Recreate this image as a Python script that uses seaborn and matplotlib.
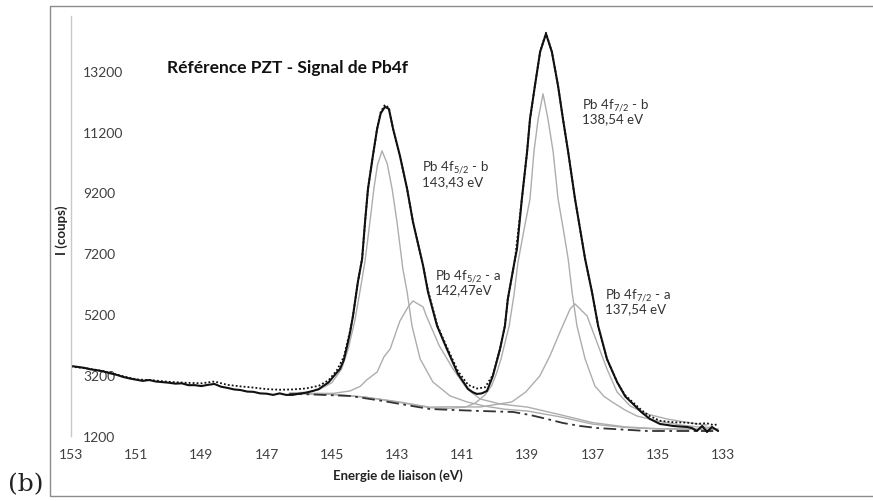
import matplotlib
matplotlib.use('Agg')
import matplotlib.pyplot as plt
import matplotlib.patches as patches
import seaborn as sns

# Spectre XPS Pb4f
exp_energy = [153.0, 152.8, 152.6, 152.4, 152.2, 152.0, 151.8, 151.6, 151.4, 151.2,
              151.0, 150.8, 150.6, 150.4, 150.2, 150.0, 149.8, 149.6, 149.4, 149.2,
              149.0, 148.8, 148.6, 148.4, 148.2, 148.0, 147.8, 147.6, 147.4, 147.2,
              147.0, 146.8, 146.6, 146.4, 146.2, 146.0, 145.8, 145.58, 145.4, 145.27,
              145.1, 144.96, 144.85, 144.75, 144.63, 144.53, 144.44, 144.35, 144.2, 144.07,
              143.98, 143.89, 143.74, 143.61, 143.5, 143.37, 143.25, 143.12, 142.91, 142.69,
              142.51, 142.2, 142.05, 141.77, 141.47, 141.13, 140.82, 140.68, 140.55, 140.4,
              140.24, 140.06, 139.84, 139.69, 139.6, 139.38, 139.32, 139.17, 139.01, 138.92,
              138.77, 138.61, 138.43, 138.25, 138.06, 137.91, 137.75, 137.54, 137.23, 137.02,
              136.83, 136.56, 136.25, 136.0, 135.76, 135.5, 135.24, 134.93, 134.7, 134.53,
              134.3, 134.1, 133.95, 133.8, 133.64, 133.49, 133.34, 133.15]
exp_counts = [3500, 3470, 3440, 3390, 3360, 3320, 3260, 3210, 3140, 3090,
              3050, 3010, 3040, 2990, 2970, 2950, 2920, 2930, 2870, 2870,
              2840, 2880, 2910, 2820, 2780, 2730, 2710, 2660, 2650, 2600,
              2590, 2550, 2600, 2550, 2550, 2590, 2620, 2680, 2740, 2840,
              2960, 3140, 3280, 3400, 3700, 4160, 4600, 5144, 6262, 7018,
              8234, 9319, 10404, 11291, 11800, 12014, 11950, 11291, 10404, 9319,
              8234, 6800, 5933, 4816, 4060, 3238, 2745, 2640, 2581, 2600,
              2679, 3172, 4060, 4816, 5703, 7018, 7347, 8990, 10535, 11620,
              12705, 13822, 14414, 13822, 12705, 11620, 10535, 8990, 7018, 5933,
              4816, 3731, 2975, 2500, 2252, 1980, 1759, 1594, 1560, 1529,
              1510, 1496, 1460, 1364, 1529, 1331, 1496, 1364]

fit_energy = [153.0, 152.5, 152.0, 151.5, 151.0, 150.5, 150.0, 149.5, 149.0, 148.6,
              148.2, 147.8, 147.4, 147.0, 146.6, 146.2, 145.8, 145.4, 145.1, 144.85,
              144.63, 144.44, 144.35, 144.2, 144.07, 143.98, 143.89, 143.74, 143.61, 143.5,
              143.37, 143.25, 143.12, 142.91, 142.69, 142.51, 142.2, 142.05, 141.77, 141.47,
              141.13, 140.82, 140.55, 140.3, 140.06, 139.84, 139.69, 139.6, 139.38, 139.17,
              139.01, 138.92, 138.77, 138.61, 138.43, 138.25, 138.06, 137.91, 137.75, 137.54,
              137.23, 137.02, 136.83, 136.56, 136.25, 136.0, 135.76, 135.5, 135.24, 134.93,
              134.5, 134.1, 133.8, 133.5, 133.3, 133.15]
fit_counts = [3480, 3420, 3330, 3190, 3060, 3030, 2980, 2950, 2930, 2990,
              2880, 2830, 2790, 2740, 2720, 2730, 2760, 2850, 3030, 3350,
              3800, 4650, 5150, 6262, 7018, 8234, 9319, 10404, 11291, 11850,
              12080, 11980, 11291, 10404, 9319, 8234, 6800, 5990, 4850, 4120,
              3330, 2880, 2760, 2800, 3200, 4060, 4816, 5703, 7018, 8990,
              10535, 11620, 12705, 13822, 14450, 13822, 12705, 11620, 10535, 8990,
              7018, 5933, 4816, 3731, 2975, 2540, 2300, 2050, 1850, 1700,
              1650, 1640, 1600, 1620, 1560, 1580]

bg_energy = [146.3, 146.0, 144.44, 143.43, 142.0, 141.28, 140.45, 139.44, 138.92, 138.4,
             137.91, 137.39, 136.87, 136.37, 135.33, 134.32, 133.3]
bg_counts = [2581, 2581, 2515, 2350, 2087, 2055, 2022, 1989, 1890, 1759,
             1627, 1529, 1463, 1430, 1364, 1364, 1364]

p52b_energy = [146.3, 145.8, 145.4, 145.0, 144.7, 144.5, 144.3, 144.12, 143.98, 143.83,
               143.71, 143.6, 143.46, 143.3, 143.15, 143.0, 142.82, 142.69, 142.54, 142.29,
               141.9, 141.37, 140.85, 140.3, 139.7, 139.0, 138.0, 137.0, 136.0, 135.0,
               134.0, 133.15]
p52b_counts = [2600, 2640, 2720, 2950, 3400, 4050, 4950, 6050, 6950, 8234,
               9319, 10100, 10568, 10150, 9319, 8234, 6689, 5933, 4816, 3731,
               2975, 2515, 2318, 2180, 2080, 2020, 1830, 1590, 1480, 1430,
               1420, 1420]

p52a_energy = [146.3, 145.5, 144.96, 144.44, 144.13, 143.92, 143.61, 143.4, 143.21, 142.91,
               142.66, 142.51, 142.2, 142.1, 141.7, 141.28, 140.85, 140.45, 139.84, 139.3,
               139.0, 138.0, 137.0, 136.0, 135.0, 134.0, 133.15]
p52a_counts = [2600, 2600, 2600, 2680, 2830, 3050, 3300, 3800, 4060, 4980,
               5440, 5637, 5440, 5144, 4158, 3402, 2745, 2416, 2252, 2186,
               2150, 1900, 1640, 1500, 1440, 1430, 1430]

p72b_energy = [146.3, 145.0, 144.0, 143.0, 142.0, 141.4, 140.9, 140.6, 140.3, 140.1,
               139.95, 139.81, 139.56, 139.41, 139.29, 139.1, 138.92, 138.8, 138.67, 138.52,
               138.37, 138.21, 138.06, 137.9, 137.75, 137.63, 137.48, 137.23, 136.93, 136.65,
               136.4, 136.0, 135.64, 135.2, 134.84, 134.3, 133.8, 133.3]
p72b_counts = [2600, 2570, 2480, 2320, 2130, 2110, 2150, 2280, 2550, 2850,
               3250, 3731, 4816, 5850, 6900, 8000, 8990, 10535, 11620, 12442,
               11620, 10535, 8990, 8000, 7018, 5933, 4816, 3731, 2844, 2500,
               2318, 2050, 1857, 1740, 1660, 1560, 1500, 1480]

p72a_energy = [146.3, 145.0, 144.0, 143.0, 142.0, 141.4, 140.45, 139.48, 139.05, 138.62,
               138.31, 138.0, 137.69, 137.54, 137.17, 136.87, 136.56, 136.25, 135.85, 135.33,
               134.72, 134.0, 133.5]
p72a_counts = [2600, 2570, 2480, 2330, 2150, 2160, 2153, 2318, 2646, 3172,
               3830, 4618, 5374, 5539, 5144, 4290, 3402, 2646, 2186, 1923,
               1759, 1627, 1560]

y_ticks = [1200, 3200, 5200, 7200, 9200, 11200, 13200]
x_ticks = [153, 151, 149, 147, 145, 143, 141, 139, 137, 135, 133]

labels = [(r'Pb 4f$_{5/2}$ - b' + '\n143,43 eV', 142.23, 9845),
          (r'Pb 4f$_{7/2}$ - b' + '\n138,54 eV', 137.33, 11900),
          (r'Pb 4f$_{5/2}$ - a' + '\n142,47eV', 141.83, 6278),
          (r'Pb 4f$_{7/2}$ - a' + '\n137,54 eV', 136.62, 5654)]

sns.set_theme(style='white')
plt.rcParams['font.family'] = ['Lato', 'DejaVu Sans']
plt.rcParams['mathtext.fontset'] = 'custom'
plt.rcParams['mathtext.rm'] = 'Lato'
plt.rcParams['mathtext.it'] = 'Lato:italic'
plt.rcParams['mathtext.bf'] = 'Lato:bold'

fig = plt.figure(figsize=(8.73, 5.02), dpi=100)
ax = fig.add_axes([0.0813, 0.1295, 0.7469, 0.8367])

grey = '#adadad'
for e, c in [(p52b_energy, p52b_counts), (p52a_energy, p52a_counts),
             (p72b_energy, p72b_counts), (p72a_energy, p72a_counts)]:
    sns.lineplot(x=e, y=c, ax=ax, color=grey, lw=1.0, estimator=None, sort=False)

sns.lineplot(x=bg_energy, y=bg_counts, ax=ax, color='#333333', lw=1.3,
             estimator=None, sort=False, linestyle=(0, (7, 2.5, 1.5, 2.5)))
sns.lineplot(x=exp_energy, y=exp_counts, ax=ax, color='#111111', lw=1.5,
             estimator=None, sort=False)
sns.lineplot(x=fit_energy, y=fit_counts, ax=ax, color='#111111', lw=1.3,
             estimator=None, sort=False, linestyle=(0, (1, 1.2)))

ax.set_xlim(153, 133)
ax.set_ylim(1200, 15000)
ax.set_xticks(x_ticks)
ax.set_xticklabels([str(t) for t in x_ticks])
ax.set_yticks(y_ticks)
ax.set_yticklabels([str(t) for t in y_ticks])
ax.tick_params(axis='x', length=0, pad=9, labelsize=10, colors='#404040')
ax.tick_params(axis='y', length=0, pad=-8.6, labelsize=10, colors='#404040')
for lab in ax.get_yticklabels():
    lab.set_horizontalalignment('left')

for side in ['top', 'right', 'bottom']:
    ax.spines[side].set_visible(False)
ax.spines['left'].set_color('#c8c8c8')
ax.spines['left'].set_linewidth(1.0)
ax.grid(False)

ax.set_xlabel('Energie de liaison (eV)', fontsize=9.5, fontweight='bold', color='#222222')
ax.set_ylabel('I (coups)', fontsize=9.5, fontweight='bold', color='#222222')
ax.xaxis.set_label_coords(0.5015, -0.093)
ax.xaxis.label.set_va('center')
ax.yaxis.set_label_coords(-0.0138, 0.493)
ax.yaxis.label.set_va('center')

ax.text(150.05, 13330, 'Référence PZT - Signal de Pb4f', fontsize=12.5, fontweight='bold',
        color='#111111', ha='left', va='center')

for txt, xe, yv in labels:
    ax.text(xe, yv, txt, fontsize=9.5, color='#333333', ha='left', va='center',
            linespacing=1.0)

fig.patches.append(patches.Rectangle((50 / 873, 5 / 502), 0.96, 490 / 502,
                                     transform=fig.transFigure, fill=False,
                                     edgecolor='#8c8c8c', lw=1.0))
fig.text(8 / 873, 1 - 485 / 502, '(b)', fontsize=18, family='DejaVu Serif',
         ha='left', va='center', color='#222222')

fig.savefig('out.png', dpi=100)
